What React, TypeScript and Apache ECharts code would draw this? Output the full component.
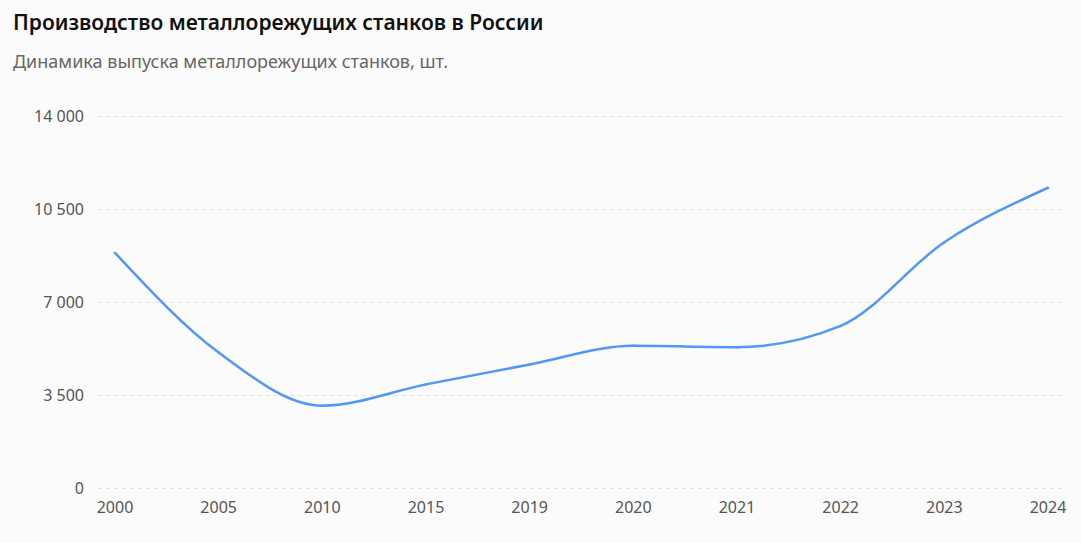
import React, { useEffect, useRef } from "react";
import * as echarts from "echarts";

// Выпуск металлорежущих станков, шт.
const years = ["2000", "2005", "2010", "2015", "2019", "2020", "2021", "2022", "2023", "2024"];
const output = [8850, 5100, 3100, 3900, 4650, 5350, 5300, 6100, 9250, 11300];
const yTicks = [0, 3500, 7000, 10500, 14000];

const titleText = "Производство металлорежущих станков в России";
const subtitleText = "Динамика выпуска металлорежущих станков, шт.";

const FONT = "'Noto Sans', 'Open Sans', sans-serif";
const LINE_COLOR = "#4f98f5";

const fmtThousands = (v: number) =>
  String(v).replace(/\B(?=(\d{3})+(?!\d))/g, " ");

// Monotone cubic (Fritsch–Carlson) tangents for points in pixel space
const sgn = (x: number) => (x < 0 ? -1 : 1);
function monotoneTangents(pts: number[][]): number[] {
  const n = pts.length;
  const t = new Array(n).fill(0);
  for (let i = 1; i < n - 1; i++) {
    const [x0, y0] = pts[i - 1];
    const [x1, y1] = pts[i];
    const [x2, y2] = pts[i + 1];
    const h0 = x1 - x0;
    const h1 = x2 - x1;
    const s0 = (y1 - y0) / h0;
    const s1 = (y2 - y1) / h1;
    const p = (s0 * h1 + s1 * h0) / (h0 + h1);
    t[i] = (sgn(s0) + sgn(s1)) * Math.min(Math.abs(s0), Math.abs(s1), 0.5 * Math.abs(p)) || 0;
  }
  const hA = pts[1][0] - pts[0][0];
  t[0] = (3 * (pts[1][1] - pts[0][1]) / hA - t[1]) / 2;
  const hB = pts[n - 1][0] - pts[n - 2][0];
  t[n - 1] = (3 * (pts[n - 1][1] - pts[n - 2][1]) / hB - t[n - 2]) / 2;
  return t;
}

export default function App() {
  const ref = useRef<HTMLDivElement>(null);

  useEffect(() => {
    document.body.style.margin = "0";
    if (!ref.current) return;
    const chart = echarts.init(ref.current, undefined, { renderer: "svg" });
    const idx = years.map((_, i) => i);
    chart.setOption({
      animation: false,
      backgroundColor: "#fbfbfb",
      textStyle: { fontFamily: FONT },
      title: {
        text: titleText,
        subtext: subtitleText,
        left: 8,
        top: 6,
        itemGap: 20,
        textStyle: { fontSize: 21, fontWeight: 600, color: "#111", fontFamily: FONT },
        subtextStyle: { fontSize: 18, color: "#666", fontFamily: FONT },
      },
      grid: { left: 98, right: 16, top: 116, bottom: 55, containLabel: false },
      xAxis: {
        type: "value",
        min: -0.164,
        max: years.length - 1 + 0.164,
        axisLine: { show: false },
        axisTick: { show: false },
        splitLine: { show: false },
        axisLabel: {
          customValues: idx,
          formatter: (v: number) => years[Math.round(v)] ?? "",
          color: "#555",
          fontSize: 16,
          margin: 11,
          fontFamily: FONT,
        },
      },
      yAxis: {
        type: "value",
        min: yTicks[0],
        max: yTicks[yTicks.length - 1],
        interval: yTicks[1] - yTicks[0],
        axisLine: { show: false },
        axisTick: { show: false },
        axisLabel: {
          formatter: (v: number) => fmtThousands(v),
          color: "#555",
          fontSize: 16,
          margin: 14,
          fontFamily: FONT,
        },
        splitLine: {
          show: true,
          lineStyle: { color: "#e2e2e2", type: [4, 4], width: 1 },
        },
      },
      series: [
        {
          type: "custom",
          name: "Выпуск",
          data: output.map((v, i) => [i, v]),
          renderItem: (params: any, api: any) => {
            const i = params.dataIndex;
            if (i >= output.length - 1) return null;
            const pts = output.map((v, j) => api.coord([j, v]));
            const t = monotoneTangents(pts);
            const [x0, y0] = pts[i];
            const [x1, y1] = pts[i + 1];
            const dx = (x1 - x0) / 3;
            return {
              type: "bezierCurve",
              shape: {
                x1: x0,
                y1: y0,
                x2: x1,
                y2: y1,
                cpx1: x0 + dx,
                cpy1: y0 + dx * t[i],
                cpx2: x1 - dx,
                cpy2: y1 - dx * t[i + 1],
              },
              style: { stroke: LINE_COLOR, lineWidth: 2.5, fill: "none", lineCap: "round" },
            };
          },
        },
      ],
    });
    return () => chart.dispose();
  }, []);

  return <div ref={ref} style={{ width: 1081, height: 543 }} />;
}
